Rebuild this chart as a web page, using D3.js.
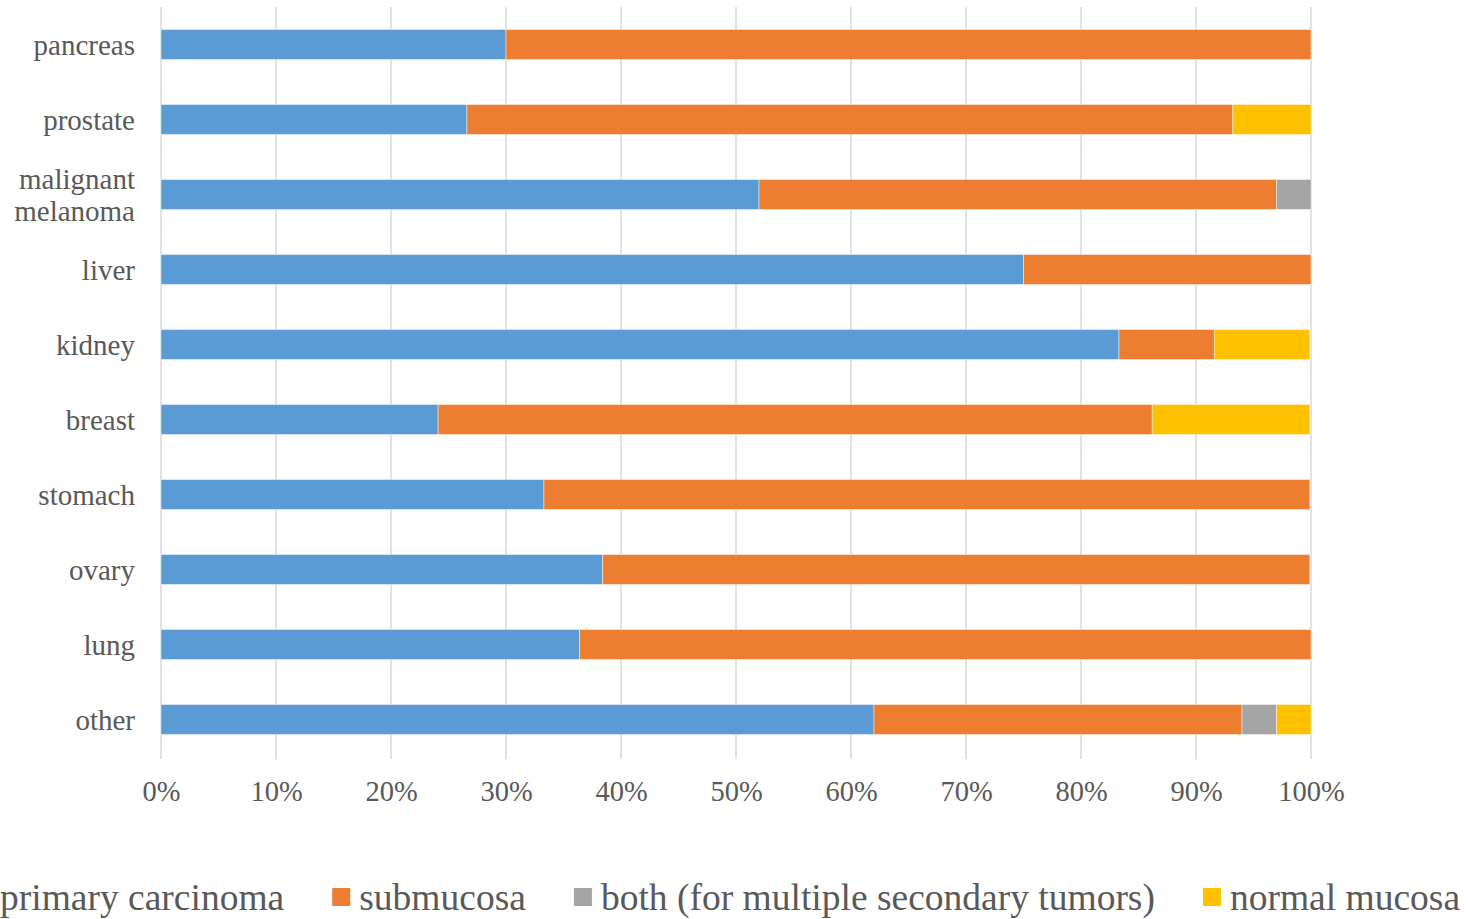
<!DOCTYPE html>
<html>
<head>
<meta charset="utf-8">
<script src="https://cdn.jsdelivr.net/npm/d3@7"></script>
<style>
  html, body { margin: 0; padding: 0; background: #fff; overflow: hidden; }
  svg { display: block; }
</style>
</head>
<body>
<svg id="chart" width="1468" height="919"></svg>
<script>
// Site of metastasis, share of cases (%) by location within the wall
const categories = ["pancreas", "prostate", "malignant melanoma", "liver", "kidney",
                    "breast", "stomach", "ovary", "lung", "other"];
const seriesNames = ["primary carcinoma", "submucosa",
                     "both (for multiple secondary tumors)", "normal mucosa"];
const primaryCarcinoma = [30, 26.6, 52, 75, 83.3, 24.1, 33.3, 38.4, 36.4, 62];
const submucosa        = [70, 66.6, 45, 25, 8.3, 62.1, 66.6, 61.5, 63.6, 32];
const bothMultiple     = [0, 0, 3, 0, 0, 0, 0, 0, 0, 3];
const normalMucosa     = [0, 6.8, 0, 0, 8.3, 13.7, 0, 0, 0, 3];
const tickValues = [0, 10, 20, 30, 40, 50, 60, 70, 80, 90, 100];
const colors = ["#5B9BD5", "#ED7D31", "#A5A5A5", "#FFC000"];

const seriesValues = [primaryCarcinoma, submucosa, bothMultiple, normalMucosa];
const rows = categories.map((c, i) => {
  const r = { category: c };
  seriesNames.forEach((s, k) => { r[s] = seriesValues[k][i]; });
  return r;
});

const svg = d3.select("#chart");
const font = "'Liberation Serif', 'Times New Roman', serif";
const textColor = "#595959";

const x = d3.scaleLinear().domain([0, 100]).range([161, 1311]);
const y = d3.scaleBand().domain(categories).range([7, 757]).paddingInner(0.6).paddingOuter(0.3);

// vertical gridlines
svg.append("g").selectAll("line").data(tickValues).join("line")
  .attr("x1", d => x(d)).attr("x2", d => x(d))
  .attr("y1", 7).attr("y2", 759)
  .attr("stroke", "#D9D9D9").attr("stroke-width", 1.5);

// stacked bars
const stack = d3.stack().keys(seriesNames);
const layers = stack(rows);
svg.append("g").selectAll("g").data(layers).join("g")
  .attr("fill", (d, i) => colors[i])
  .selectAll("rect").data(d => d.filter(p => p[1] - p[0] > 0)).join("rect")
  .attr("x", d => x(d[0]))
  .attr("width", d => x(d[1]) - x(d[0]))
  .attr("y", d => y(d.data.category))
  .attr("height", y.bandwidth())
  .attr("stroke", "#ffffff").attr("stroke-opacity", 0.45).attr("stroke-width", 1);

// x-axis tick labels
const xAxis = d3.axisBottom(x).tickValues(tickValues).tickSize(0).tickFormat(d => d + "%");
const gx = svg.append("g").attr("transform", "translate(0,781)").call(xAxis);
gx.select(".domain").remove();
gx.selectAll("text").attr("font-family", font).attr("font-size", 28.5)
  .attr("fill", textColor).attr("dy", "0.71em").attr("y", 0);

// category labels (right aligned, wrapped)
const wrap = { "malignant melanoma": ["malignant", "melanoma"] };
const yl = svg.append("g");
categories.forEach(c => {
  const lines = wrap[c] || [c];
  const cy = y(c) + y.bandwidth() / 2;
  const lh = 32;
  const t = yl.append("text")
    .attr("text-anchor", "end").attr("font-family", font).attr("font-size", 29)
    .attr("fill", textColor);
  lines.forEach((ln, j) => {
    t.append("tspan").attr("x", 135)
      .attr("y", cy + (j - (lines.length - 1) / 2) * lh + 10)
      .text(ln);
  });
});

// legend along the bottom
const legend = svg.append("g");
let cursor = 0;
seriesNames.forEach((s, i) => {
  const g = legend.append("g");
  const markerX = i === 0 ? -28 : cursor + 48;
  const textX = i === 0 ? 0 : markerX + 27;
  g.append("rect").attr("x", markerX).attr("y", 888).attr("width", 18).attr("height", 18)
    .attr("fill", colors[i]);
  const t = g.append("text").attr("x", textX).attr("y", 910)
    .attr("font-family", font).attr("font-size", 37.5).attr("fill", textColor).text(s);
  cursor = textX + t.node().getComputedTextLength();
});
</script>
</body>
</html>
